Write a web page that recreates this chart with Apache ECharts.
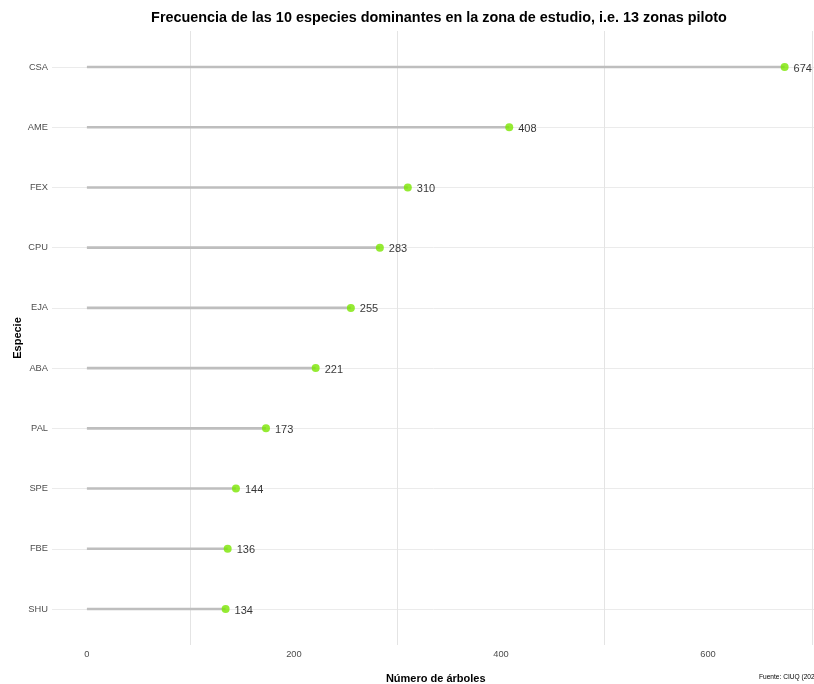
<!DOCTYPE html>
<html>
<head>
<meta charset="utf-8">
<script src="https://cdn.jsdelivr.net/npm/echarts@6/dist/echarts.min.js"></script>
<style>
html,body{margin:0;padding:0;background:#fff;}
#chart{width:814px;height:684px;}
</style>
</head>
<body>
<div id="chart"></div>
<script>
const species = ['CSA','AME','FEX','CPU','EJA','ABA','PAL','SPE','FBE','SHU'];
const counts = [674, 408, 310, 283, 255, 221, 173, 144, 136, 134];
const minorBreaks = [100, 300, 500, 700];
const titleText = 'Frecuencia de las 10 especies dominantes en la zona de estudio, i.e. 13 zonas piloto';
const xTitle = 'Número de árboles';
const yTitle = 'Especie';
const captionText = 'Fuente: CIUQ (2022)';

const maxVal = Math.max(...counts);
const pad = maxVal * 0.05;
const xMin = -pad, xMax = maxVal + pad;
const FONT = '"Liberation Sans", Arial, sans-serif';

const chart = echarts.init(document.getElementById('chart'), null, {renderer: 'canvas'});
chart.setOption({
  backgroundColor: '#ffffff',
  animation: false,
  title: {
    text: titleText,
    left: 434, top: 6, textAlign: 'center',
    textStyle: {fontFamily: FONT, fontSize: 14.4, fontWeight: 'bold', color: '#000'}
  },
  graphic: [
    {
      type: 'text', left: 759, top: 674,
      style: {text: captionText, font: '6.6px ' + FONT, fill: '#000'}
    },
    {
      type: 'text', x: 18, y: 338, rotation: Math.PI / 2,
      style: {text: yTitle, font: 'bold 11px ' + FONT, fill: '#000', align: 'center', verticalAlign: 'middle'}
    }
  ],
  grid: [
    {left: 52, width: 767.5, top: 31, height: 614, containLabel: false, outerBoundsMode: 'none'},
    {left: 52, width: 767.5, top: 67, height: 542, containLabel: false, outerBoundsMode: 'none'}
  ],
  xAxis: [
    {
      gridIndex: 0, type: 'value', min: xMin, max: xMax, splitNumber: 4,
      name: xTitle, nameLocation: 'middle', nameGap: 28,
      nameTextStyle: {fontFamily: FONT, fontSize: 11, fontWeight: 'bold', color: '#000'},
      axisLine: {show: false}, axisTick: {show: false}, splitLine: {show: false},
      axisLabel: {showMinLabel: false, showMaxLabel: false, margin: 5,
        fontFamily: FONT, fontSize: 9.3, color: '#4D4D4D'}
    },
    {
      gridIndex: 1, type: 'value', min: xMin, max: xMax,
      axisLine: {show: false}, axisTick: {show: false}, splitLine: {show: false},
      axisLabel: {show: false}
    }
  ],
  yAxis: [
    {
      gridIndex: 0, type: 'value', min: 0, max: 1, show: false
    },
    {
      gridIndex: 1, type: 'category', data: species, inverse: true, boundaryGap: false,
      axisLine: {show: false}, axisTick: {show: false},
      splitLine: {show: true, lineStyle: {color: '#EBEBEB', width: 1}},
      axisLabel: {margin: 4, fontFamily: FONT, fontSize: 9.3, color: '#4D4D4D'}
    }
  ],
  series: [
    {
      type: 'custom', xAxisIndex: 0, yAxisIndex: 0, z: 0, silent: true,
      data: minorBreaks,
      renderItem: function (params, api) {
        const v = api.value(0);
        const p0 = api.coord([v, 0]);
        const p1 = api.coord([v, 1]);
        return {type: 'line', shape: {x1: Math.round(p0[0]) + 0.5, y1: p0[1], x2: Math.round(p1[0]) + 0.5, y2: p1[1]},
          style: {stroke: '#E4E4E4', lineWidth: 1}};
      },
      encode: {x: 0}
    },
    {
      type: 'bar', xAxisIndex: 1, yAxisIndex: 1, z: 2,
      data: counts, barWidth: 2.6,
      itemStyle: {color: '#BEBEBE'}, silent: true
    },
    {
      type: 'scatter', xAxisIndex: 1, yAxisIndex: 1, z: 3,
      data: counts.map((v, i) => [v, species[i]]),
      symbol: 'circle', symbolSize: 8,
      itemStyle: {color: '#7AE600'},
      label: {show: true, position: 'right', distance: 5, offset: [0, 1.5], formatter: p => p.value[0],
        fontFamily: FONT, fontSize: 11, color: '#000'}
    }
  ]
});
</script>
</body>
</html>
